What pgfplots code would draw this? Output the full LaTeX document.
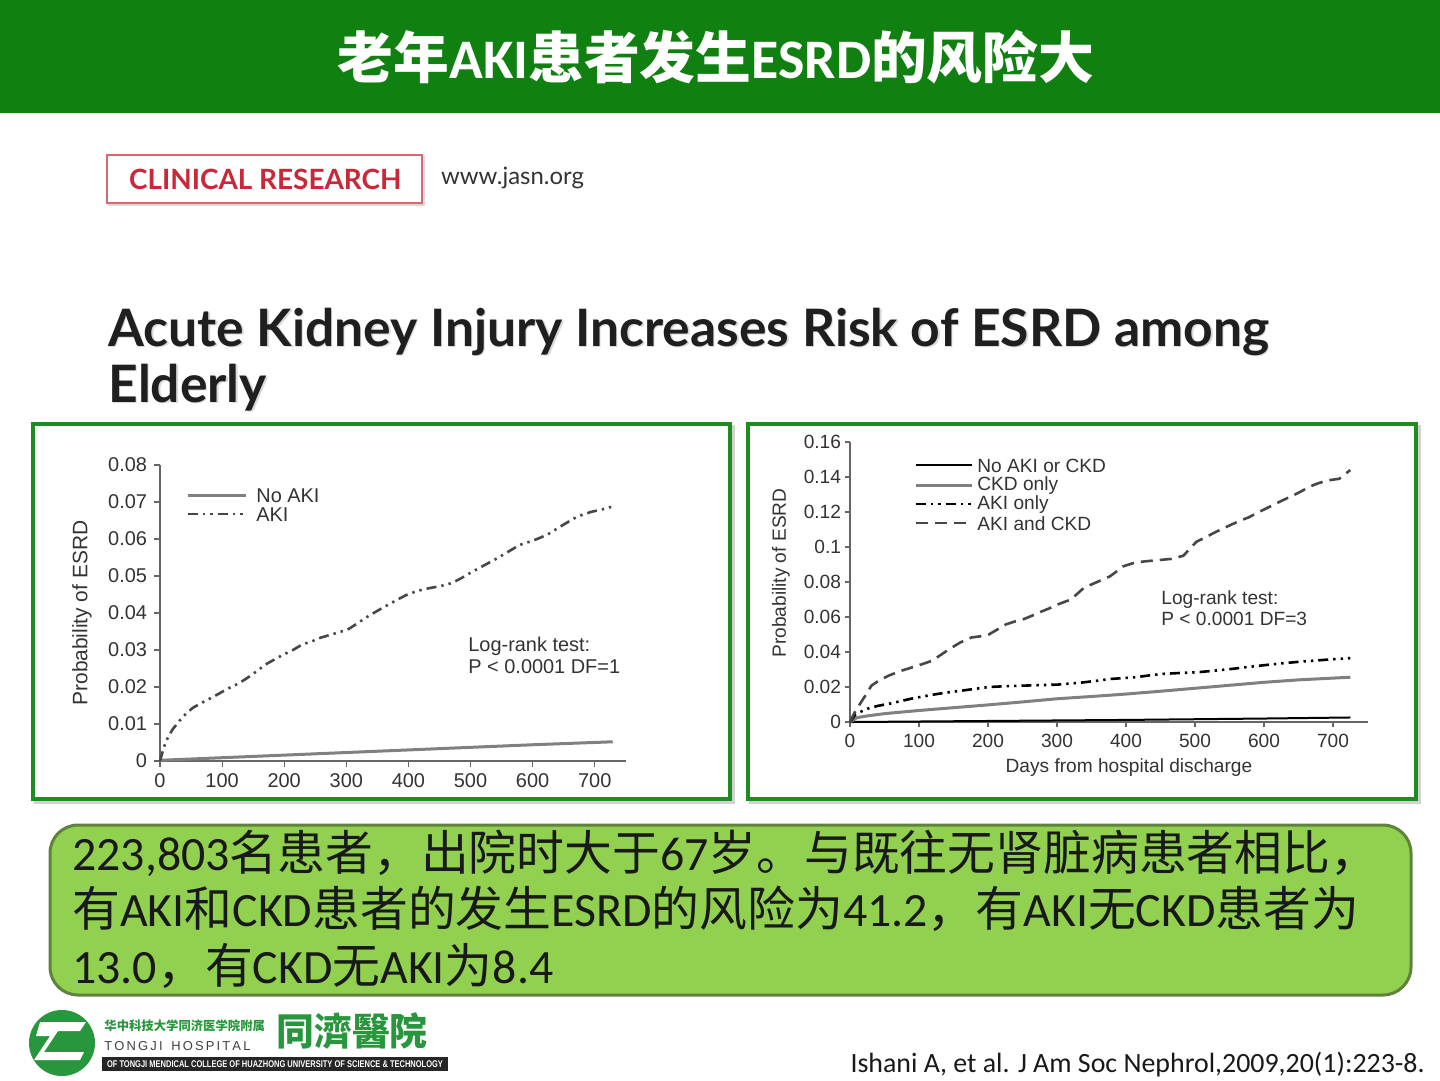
\documentclass[border=0pt]{standalone}
\usepackage{fontspec}
\usepackage{graphicx}
\usepackage{pgfplots}
\pgfplotsset{compat=1.18}
\setmainfont{Liberation Sans}
\newfontfamily\cjk{Noto Sans CJK SC}
\newfontfamily\calfont{Carlito}
\newfontfamily\lato{Lato}

\definecolor{hdr}{RGB}{16,128,16}
\definecolor{frame}{RGB}{30,140,30}
\definecolor{boxfill}{RGB}{146,208,80}
\definecolor{boxedge}{RGB}{95,130,60}
\definecolor{crim}{RGB}{200,40,55}
\definecolor{logo}{RGB}{40,150,60}

\tikzset{
  ddot/.style={dash pattern=on 5bp off 2.5bp on 1.2bp off 2.5bp on 1.2bp off 2.5bp},
  dsh/.style={dash pattern=on 6bp off 3.5bp},
}

% left panel
\pgfplotstableread{
x y
0 0
5 0.003
10 0.0055
20 0.0085
31 0.0108
42 0.0128
53 0.0144
68 0.0158
83 0.0171
98 0.0185
112 0.0198
127 0.021
141 0.0225
156 0.0243
170 0.0261
185 0.0275
199 0.0288
214 0.0300
229 0.0315
244 0.0323
258 0.0333
280 0.0344
302 0.0355
316 0.0370
331 0.0387
349 0.0405
367 0.0422
382 0.0436
397 0.0449
415 0.0460
433 0.0467
452 0.0473
470 0.0481
485 0.0494
499 0.0508
521 0.0528
543 0.0548
561 0.0566
579 0.0584
601 0.0596
623 0.0611
645 0.0634
667 0.0656
682 0.0667
696 0.0674
712 0.0680
729 0.0688
}\akiL

\pgfplotstableread{
x y
0 0.0002
100 0.0009
200 0.0016
300 0.0023
400 0.0030
500 0.0037
600 0.0044
729 0.0052
}\noakiL

% right panel
\pgfplotstableread{
x y
0 0
6 0.005
13 0.0095
22 0.015
31 0.0208
43 0.0240
56 0.0265
72 0.0290
88 0.031
104 0.0330
119 0.035
132 0.0385
144 0.0417
160 0.0455
176 0.0483
189 0.0490
201 0.050
214 0.0530
226 0.0558
239 0.0575
251 0.0587
264 0.0608
276 0.0629
289 0.0650
301 0.0672
320 0.070
339 0.0767
358 0.080
377 0.0833
396 0.089
412 0.0910
427 0.0918
446 0.0925
465 0.0932
483 0.095
502 0.103
515 0.1055
527 0.108
540 0.1105
552 0.1127
565 0.1150
578 0.117
590 0.1195
603 0.122
618 0.125
634 0.128
650 0.1310
666 0.1345
679 0.1365
691 0.138
709 0.139
725 0.144
}\akickd

\pgfplotstableread{
x y
0 0
8 0.0045
25 0.0076
40 0.0092
56 0.0104
72 0.0118
88 0.0133
107 0.0147
126 0.016
145 0.0171
163 0.018
182 0.0190
201 0.020
226 0.0205
251 0.0208
276 0.0211
301 0.0214
320 0.0220
339 0.0227
358 0.0236
377 0.0246
396 0.0251
414 0.0256
433 0.0266
452 0.0275
477 0.0280
502 0.0284
527 0.0293
552 0.0303
578 0.0315
603 0.0326
628 0.0336
653 0.0345
690 0.0356
725 0.0365
}\akionly

\pgfplotstableread{
x y
0 0
10 0.0025
25 0.0035
50 0.0048
100 0.0066
150 0.0082
200 0.0098
250 0.0115
300 0.0133
350 0.0146
400 0.016
450 0.0176
500 0.0193
550 0.0210
600 0.0227
650 0.0241
725 0.0256
}\ckdonly

\pgfplotstableread{
x y
0 0
100 0.0003
200 0.0006
300 0.0009
400 0.0012
500 0.0016
600 0.0020
725 0.0026
}\none

\begin{document}
\begin{tikzpicture}[x=0.5bp,y=0.5bp]
\useasboundingbox (0,0) rectangle (1440,-1080);
\fill[white] (0,0) rectangle (1440,-1080);

% header
\fill[hdr] (0,0) rectangle (1440,-113);
\node[text=white, font=\cjk\bfseries\fontsize{28}{28}\selectfont] at (716,-57)
  {老年{\calfont\bfseries AKI}患者发生{\calfont\bfseries ESRD}的风险大};

% journal banner
\draw[black!15, line width=1.2bp] (109,-157) rectangle (424,-205);
\draw[crim!70, line width=0.8bp, fill=white] (107,-155) rectangle (422,-203);
\node[anchor=west, text=crim, font=\lato\bfseries\fontsize{14}{14}\selectfont] at (122,-179) {CLINICAL RESEARCH};
\node[anchor=west, text=black!80, font=\lato\fontsize{12}{12}\selectfont] at (434,-178) {www.jasn.org};

% article title
\foreach \dx/\col in {1.5/black!15, 0/black!88} {
  \node[anchor=base west, inner sep=0pt, text=\col, font=\lato\bfseries\fontsize{25.9}{25.9}\selectfont] at (108+\dx,-346-\dx)
    {Acute Kidney Injury Increases Risk of ESRD among};
  \node[anchor=base west, inner sep=0pt, text=\col, font=\lato\bfseries\fontsize{25.9}{25.9}\selectfont] at (108+\dx,-402-\dx)
    {Elderly};
}

% panel frames
\draw[black!18, line width=2bp] (36,-427) rectangle (733,-802);
\draw[black!18, line width=2bp] (751,-427) rectangle (1419,-802);
\draw[frame, line width=2bp, fill=white] (33,-424) rectangle (730,-799);
\draw[frame, line width=2bp, fill=white] (748,-424) rectangle (1416,-799);

% left chart
\begin{axis}[
  at={(80bp,-380.5bp)}, anchor=south west,
  x=0.3105bp, y=1850bp,
  xmin=0, xmax=750, ymin=0, ymax=0.08,
  axis lines=left,
  axis line style={-, black!60, line width=0.6bp},
  tick align=outside, major tick length=3bp,
  tick style={black!60, line width=0.6bp},
  scaled ticks=false,
  xtick={0,100,...,700},
  xticklabels={0,100,200,300,400,500,600,700},
  ytick={0,0.01,0.02,0.03,0.04,0.05,0.06,0.07,0.08},
  yticklabels={0,0.01,0.02,0.03,0.04,0.05,0.06,0.07,0.08},
  tick label style={font=\fontsize{10}{10}\selectfont, text=black!80},
  /pgf/number format/assume math mode=true,
  ylabel={Probability of ESRD},
  every axis y label/.style={at={(axis description cs:-0.1675,0.5)}, rotate=90, anchor=center,
    font=\fontsize{10.5}{10.5}\selectfont, text=black!80},
  clip=false,
]
\addplot[black!50, line width=1.5bp] table[x=x,y=y] {\noakiL};
\addplot[black!72, line width=1.3bp, ddot] table[x=x,y=y] {\akiL};
\end{axis}

% right chart
\begin{axis}[
  at={(425bp,-361bp)}, anchor=south west,
  x=0.345bp, y=875bp,
  xmin=0, xmax=750, ymin=0, ymax=0.16,
  axis lines=left,
  axis line style={-, black!60, line width=0.6bp},
  tick align=outside, major tick length=2.5bp,
  tick style={black!60, line width=0.6bp},
  scaled ticks=false,
  xtick={0,100,...,700},
  xticklabels={0,100,200,300,400,500,600,700},
  ytick={0,0.02,0.04,0.06,0.08,0.1,0.12,0.14,0.16},
  yticklabels={0,0.02,0.04,0.06,0.08,0.1,0.12,0.14,0.16},
  yticklabel style={xshift=1.5bp},
  tick label style={font=\fontsize{9.6}{9.6}\selectfont, text=black!80},
  /pgf/number format/assume math mode=true,
  xlabel={Days from hospital discharge},
  ylabel={Probability of ESRD},
  every axis x label/.style={at={(axis description cs:0.539,-0.164)}, anchor=center,
    font=\fontsize{9.6}{9.6}\selectfont, text=black!80},
  every axis y label/.style={at={(axis description cs:-0.1333,0.532)}, rotate=90, anchor=center,
    font=\fontsize{9.6}{9.6}\selectfont, text=black!80},
  clip=false,
]
\addplot[black, line width=1bp] table[x=x,y=y] {\none};
\addplot[black!50, line width=1.5bp] table[x=x,y=y] {\ckdonly};
\addplot[black, line width=1.3bp, ddot] table[x=x,y=y] {\akionly};
\addplot[black!72, line width=1.3bp, dsh] table[x=x,y=y] {\akickd};
\end{axis}

% legends and notes, left
\begin{scope}[font=\fontsize{10}{10}\selectfont, text=black!80]
\draw[black!50, line width=1.5bp] (188,-495) -- (246,-495);
\draw[black!72, line width=1.3bp, ddot] (188,-514) -- (246,-514);
\node[anchor=west, inner sep=0pt] at (256,-496) {No AKI};
\node[anchor=west, inner sep=0pt] at (256,-515) {AKI};
\node[anchor=west, inner sep=0pt] at (468,-646) {Log-rank test:};
\node[anchor=west, inner sep=0pt] at (468,-667) {P < 0.0001 DF=1};
\end{scope}

% legends and notes, right
\begin{scope}[font=\fontsize{9.6}{9.6}\selectfont, text=black!80]
\draw[black, line width=1bp] (916,-465) -- (972,-465);
\draw[black!50, line width=1.5bp] (916,-485) -- (972,-485);
\draw[black, line width=1.3bp, ddot] (916,-504) -- (972,-504);
\draw[black!72, line width=1.3bp, dsh] (916,-523) -- (972,-523);
\node[anchor=west, inner sep=0pt] at (977,-466) {No AKI or CKD};
\node[anchor=west, inner sep=0pt] at (977,-486) {CKD only};
\node[anchor=west, inner sep=0pt] at (977,-505) {AKI only};
\node[anchor=west, inner sep=0pt] at (977,-524) {AKI and CKD};
\node[anchor=west, inner sep=0pt] at (1161,-600) {Log-rank test:};
\node[anchor=west, inner sep=0pt] at (1161,-619) {P < 0.0001 DF=3};
\end{scope}

% summary box
\draw[boxedge, line width=1.5bp, fill=boxfill, rounded corners=14bp] (50,-825) rectangle (1411,-995);
\begin{scope}[font=\cjk\fontsize{24}{24}\selectfont, text=black!90]
\node[anchor=base west, inner sep=0pt] at (72,-870)
  {{\calfont 223,803}名患者，出院时大于{\calfont 67}岁。与既往无肾脏病患者相比，};
\node[anchor=base west, inner sep=0pt] at (72,-926)
  {有{\calfont AKI}和{\calfont CKD}患者的发生{\calfont ESRD}的风险为{\calfont 41.2}，有{\calfont AKI}无{\calfont CKD}患者为};
\node[anchor=base west, inner sep=0pt] at (72,-983)
  {{\calfont 13.0}，有{\calfont CKD}无{\calfont AKI}为{\calfont 8.4}};
\end{scope}

% logo
\fill[logo] (62,-1043) circle (33);
\fill[white] (40,-1022) -- (86,-1022) -- (80,-1031) -- (58,-1031) -- (44,-1052) -- (84,-1052) -- (80,-1060) -- (34,-1060) -- (50,-1036) -- (36,-1036) -- cycle;
\node[anchor=west, inner sep=0pt, text=logo, font=\cjk\bfseries\fontsize{6.2}{6.2}\selectfont] at (104,-1026) {华中科技大学同济医学院附属};
\node[anchor=west, inner sep=0pt, text=black!75, font=\fontsize{6.5}{6.5}\selectfont] at (104,-1046) {T\,O\,N\,G\,J\,I\,\,\,\,H\,O\,S\,P\,I\,T\,A\,L};
\fill[black!85] (102,-1057) rectangle (448,-1071);
\node[inner sep=0pt, text=white] at (275,-1064)
  {\resizebox{168bp}{3.4bp}{\bfseries OF TONGJI MENDICAL COLLEGE OF HUAZHONG UNIVERSITY OF SCIENCE \& TECHNOLOGY}};
\node[anchor=west, inner sep=0pt, text=logo, font=\cjk\bfseries\fontsize{19}{19}\selectfont] at (276,-1031) {同濟醫院};

% citation
\node[anchor=base east, inner sep=0pt, font=\calfont\fontsize{14}{14}\selectfont, text=black!90] at (1425,-1072)
  {Ishani A, et al. J Am Soc Nephrol,2009,20(1):223-8.};
\end{tikzpicture}
\end{document}
